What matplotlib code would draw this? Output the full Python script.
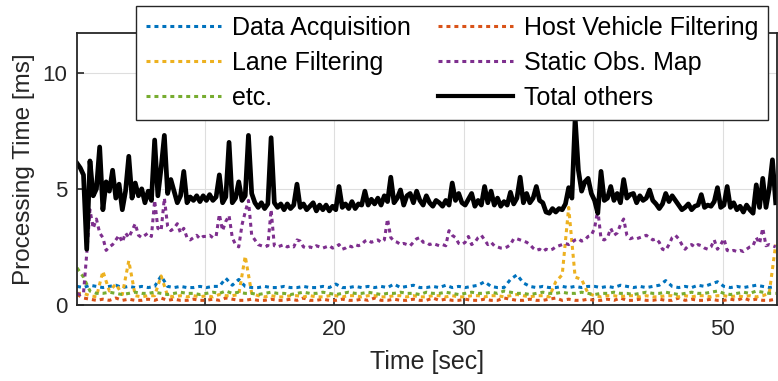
import numpy as np
import matplotlib
matplotlib.use("Agg")
import matplotlib.pyplot as plt

plt.rcParams['font.family'] = ['Liberation Sans', 'DejaVu Sans']

# Sampling grids [sec]
t_fine = np.round(np.arange(0.1, 54.11, 0.25), 2)     # 217 samples
t_coarse = np.round(np.arange(0.1, 54.11, 0.5), 2)    # 109 samples

# Total of the remaining modules [ms], 4 samples per second
total_others = [
    6.1, 5.9, 5.6, 2.4,   6.2, 4.7, 5.0, 6.8,   4.1, 5.3, 4.9, 5.8,
    4.6, 5.2, 4.1, 4.9,   6.4, 4.6, 5.25, 4.7,  5.0, 4.4, 4.9, 4.5,
    7.1, 4.7, 5.9, 7.3,   4.8, 5.4, 4.9, 4.4,   4.7, 5.75, 4.4, 4.65,
    4.5, 4.7, 4.45, 4.7,  4.5, 4.75, 4.5, 4.65, 5.6, 4.4, 4.65, 7.0,
    4.4, 4.6, 5.3, 4.5,   4.7, 7.3, 4.8, 4.4,   4.2, 4.4, 4.15, 4.35,
    7.2, 4.4, 4.2, 4.35,  4.1, 4.35, 4.15, 4.3, 5.2, 4.2, 4.35, 4.1,
    4.25, 4.4, 4.05, 4.3, 4.1, 4.3, 4.05, 4.25, 4.1, 5.1, 4.2, 4.35,
    4.15, 4.45, 4.15, 4.35, 4.3, 4.9, 4.3, 4.55, 4.35, 4.6, 4.3, 4.7,
    4.45, 5.5, 4.4, 4.6,  4.95, 4.3, 4.7, 4.8,  4.4, 4.9, 4.5, 4.3,
    4.7, 4.4, 4.25, 4.5,  4.4, 4.25, 4.5, 4.3,  5.25, 4.5, 4.8, 4.4,
    4.3, 4.55, 4.8, 4.25, 4.5, 4.3, 5.1, 4.4,   4.9, 4.3, 4.6, 4.25,
    4.45, 4.3, 4.85, 4.35, 4.6, 5.5, 4.4, 4.8,  4.4, 4.6, 5.1, 4.5,
    4.4, 4.0, 3.95, 4.15, 4.0, 4.15, 4.1, 4.35, 5.05, 4.6, 8.05, 5.8,
    4.9, 5.3, 5.45, 4.8,  4.5, 3.95, 5.75, 4.5, 4.6, 5.1, 4.5, 4.8,
    4.4, 5.4, 4.6, 4.75,  4.8, 4.4, 4.7, 4.5,   4.6, 4.95, 4.5, 4.35,
    4.15, 4.35, 4.8, 4.45, 4.7, 4.5, 4.3, 4.1,  4.2, 4.35, 4.1, 4.25,
    4.3, 4.75, 4.2, 4.3,  4.25, 4.45, 5.05, 4.2, 4.3, 5.1, 4.2, 4.4,
    4.1, 4.25, 4.0, 4.3,  4.1, 3.95, 5.17, 4.2, 5.45, 4.2, 5.0, 6.25,
    4.4,
]

# Static obstacle map [ms], 4 samples per second
static_obs_map = [
    0.5, 0.45, 0.5, 2.2,  4.1, 3.3, 3.7, 3.1,   2.9, 2.35, 2.5, 2.6,
    2.8, 3.0, 2.7, 3.1,   2.9, 3.2, 3.5, 3.0,   2.9, 3.0, 3.1, 2.95,
    4.5, 3.3, 3.2, 4.6,   3.4, 3.2, 3.3, 3.5,   3.1, 3.3, 2.9, 2.8,
    2.9, 3.0, 2.85, 2.95, 2.95, 3.0, 2.9, 2.95, 3.9, 3.2, 3.6, 3.85,
    2.9, 2.6, 2.5, 3.45,  4.0, 4.5, 3.0, 2.8,   2.6, 2.55, 2.5, 2.55,
    4.1, 2.55, 2.5, 2.55, 2.6, 2.5, 2.55, 2.5,  2.8, 2.75, 2.5, 2.45,
    2.5, 2.45, 2.55, 2.5, 2.45, 2.5, 2.55, 2.45, 2.5, 2.6, 2.4, 2.45,
    2.55, 2.5, 2.6, 2.55, 2.6, 2.75, 2.8, 2.7,  2.75, 2.8, 2.7, 2.8,
    3.7, 2.9, 2.75, 2.7,  2.6, 2.65, 2.6, 2.55, 2.7, 2.85, 2.9, 2.7,
    2.7, 2.6, 2.65, 2.6,  2.55, 2.6, 2.55, 3.2, 3.0, 2.9, 2.65, 2.6,
    2.7, 2.95, 2.6, 2.7,  2.9, 3.0, 2.8, 2.6,   2.7, 2.55, 2.5, 2.45,
    2.45, 2.5, 2.6, 2.85, 2.85, 2.8, 2.75, 2.7, 2.6, 2.45, 2.35, 2.4,
    2.3, 2.4, 2.35, 2.4,  2.5, 2.55, 2.6, 2.65, 2.6, 2.7, 2.8, 2.85,
    2.75, 2.8, 2.95, 3.0, 3.3, 4.1, 2.85, 2.8,  2.9, 3.3, 3.0, 3.1,
    3.45, 3.7, 3.0, 2.85, 2.9, 2.85, 2.9, 2.95, 3.0, 2.9, 2.8, 2.85,
    2.7, 2.4, 2.35, 2.6,  2.9, 3.0, 2.85, 2.6,  2.4, 2.55, 2.6, 2.5,
    2.6, 2.55, 2.45, 2.4, 2.5, 2.8, 2.4, 2.6,   2.85, 2.35, 2.3, 2.35,
    2.3, 2.35, 2.3, 2.4,  2.5, 2.55, 2.9, 2.65, 3.3, 2.55, 2.6, 2.55,
    2.5,
]

# Smaller modules [ms], 2 samples per second
data_acquisition = [
    0.8, 0.75, 0.85, 0.8, 0.75, 0.8, 0.85, 0.75, 0.8, 0.75,
    0.8, 0.75, 0.8, 1.25, 0.8, 0.75, 0.8, 0.75, 0.75, 0.8,
    0.75, 0.8, 0.8, 1.15, 0.85, 1.1, 0.8, 0.75, 0.75, 0.8,
    0.75, 0.75, 0.8, 0.75, 0.75, 0.8, 0.75, 0.75, 0.8, 0.75,
    0.9, 0.75, 0.75, 0.8, 0.75, 0.8, 0.75, 0.8, 0.75, 0.9,
    0.75, 0.8, 0.85, 0.75, 0.75, 0.8, 0.75, 0.85, 0.75, 0.8,
    0.75, 0.8, 0.85, 1.0, 0.8, 0.75, 0.75, 1.1, 1.3, 0.95,
    0.8, 0.75, 0.8, 0.75, 0.75, 0.8, 0.75, 0.8, 0.75, 0.8,
    0.8, 0.75, 0.8, 0.75, 0.85, 0.8, 0.75, 0.8, 0.75, 0.8,
    0.85, 1.05, 0.8, 0.75, 0.8, 0.75, 0.85, 0.8, 0.9, 1.0,
    0.8, 0.75, 0.8, 0.75, 0.8, 0.85, 0.8, 0.75, 0.8,
]
host_vehicle_filtering = [
    0.45, 0.3, 0.25, 0.2, 0.25, 0.2, 0.3, 0.2, 0.25, 0.2,
    0.2, 0.25, 0.2, 0.3, 0.2, 0.25, 0.2, 0.2, 0.25, 0.2,
    0.2, 0.25, 0.2, 0.3, 0.25, 0.2, 0.2, 0.25, 0.2, 0.2,
    0.25, 0.2, 0.2, 0.25, 0.2, 0.3, 0.2, 0.2, 0.25, 0.2,
    0.2, 0.25, 0.2, 0.2, 0.25, 0.2, 0.3, 0.2, 0.2, 0.25,
    0.2, 0.2, 0.25, 0.2, 0.2, 0.3, 0.2, 0.25, 0.2, 0.2,
    0.25, 0.2, 0.2, 0.25, 0.2, 0.2, 0.3, 0.25, 0.2, 0.2,
    0.25, 0.2, 0.2, 0.25, 0.3, 0.2, 0.25, 0.2, 0.2, 0.25,
    0.2, 0.2, 0.25, 0.2, 0.3, 0.2, 0.2, 0.25, 0.2, 0.2,
    0.25, 0.2, 0.2, 0.3, 0.2, 0.25, 0.2, 0.2, 0.25, 0.2,
    0.2, 0.25, 0.2, 0.3, 0.2, 0.25, 0.2, 0.2, 0.25,
]
lane_filtering = [
    0.5, 0.5, 0.4, 0.35, 1.45, 0.6, 0.9, 0.45, 1.9, 0.4,
    0.35, 0.4, 0.4, 1.25, 0.4, 0.35, 0.4, 0.35, 0.4, 0.35,
    0.4, 0.35, 0.45, 0.4, 0.4, 0.45, 2.1, 0.5, 0.4, 0.35,
    0.4, 0.35, 0.35, 0.4, 0.4, 0.35, 0.4, 0.35, 0.35, 0.4,
    0.4, 0.35, 0.4, 0.4, 0.35, 0.4, 0.4, 0.35, 0.35, 0.4,
    0.4, 0.35, 0.4, 0.35, 0.35, 0.4, 0.4, 0.35, 0.4, 0.35,
    0.35, 0.4, 0.4, 0.35, 0.4, 0.4, 0.35, 0.4, 0.45, 0.4,
    0.35, 0.4, 0.4, 0.35, 1.0, 1.3, 4.2, 1.2, 1.1, 0.5,
    0.4, 0.35, 0.4, 0.4, 0.35, 0.4, 0.4, 0.35, 0.4, 0.35,
    0.35, 0.4, 0.4, 0.35, 0.4, 0.35, 0.4, 0.4, 0.35, 0.4,
    0.4, 0.35, 0.4, 0.35, 0.4, 0.35, 0.4, 0.5, 2.6,
]
etc_modules = [
    1.6, 1.2, 0.6, 0.5, 0.5, 0.55, 0.5, 0.45, 0.5, 0.55,
    0.5, 0.5, 0.55, 0.5, 0.45, 0.5, 0.55, 0.5, 0.5, 0.45,
    0.5, 0.55, 0.5, 0.6, 0.5, 0.55, 0.5, 0.5, 0.45, 0.5,
    0.55, 0.5, 0.5, 0.45, 0.5, 0.55, 0.5, 0.5, 0.55, 0.5,
    0.45, 0.5, 0.55, 0.5, 0.5, 0.55, 0.5, 0.45, 0.5, 0.5,
    0.55, 0.5, 0.5, 0.45, 0.55, 0.5, 0.5, 0.55, 0.5, 0.45,
    0.5, 0.55, 0.5, 0.5, 0.55, 0.5, 0.6, 0.55, 0.5, 0.5,
    0.45, 0.5, 0.55, 0.5, 0.5, 0.55, 0.5, 0.5, 0.55, 0.5,
    0.45, 0.5, 0.5, 0.55, 0.5, 0.5, 0.45, 0.5, 0.55, 0.5,
    0.5, 0.55, 0.5, 0.45, 0.5, 0.55, 0.5, 0.5, 0.55, 0.6,
    0.5, 0.45, 0.5, 0.55, 0.5, 0.6, 0.55, 0.5, 0.5,
]

colors = {"blue": "#0072BD", "orange": "#D95319", "yellow": "#EDB120",
          "purple": "#7E2F8E", "green": "#77AC30", "black": "#000000"}
ink = '#262626'

fig = plt.figure(figsize=(7.78, 3.81), dpi=100)
ax = fig.add_axes([0.099, 0.1995, 0.8997, 0.7135])

dot = dict(lw=2.2, linestyle=(0, (1.3, 1.3)), dash_capstyle='butt')
h_da, = ax.plot(t_coarse, data_acquisition, color=colors["blue"], **dot)
h_hv, = ax.plot(t_coarse, host_vehicle_filtering, color=colors["orange"], **dot)
h_lf, = ax.plot(t_coarse, lane_filtering, color=colors["yellow"], **dot)
h_et, = ax.plot(t_coarse, etc_modules, color=colors["green"], **dot)
h_so, = ax.plot(t_fine, static_obs_map, color=colors["purple"], **dot)
h_to, = ax.plot(t_fine, total_others, color=colors["black"], lw=3.4)

ax.set_xlim(0.1, 54.2)
ax.set_ylim(0, 11.7)
ax.set_xticks([10, 20, 30, 40, 50])
ax.set_yticks([0, 5, 10])
ax.grid(True, color='#dedede', lw=0.8)
ax.set_axisbelow(True)
ax.tick_params(direction='in', length=5, width=1.2, labelsize=16,
               colors=ink, labelcolor=ink)
ax.tick_params(axis='x', pad=10)
ax.tick_params(axis='y', pad=7)
for s in ax.spines.values():
    s.set_linewidth(1.3)
    s.set_color(ink)

ax.set_xlabel("Time [sec]", fontsize=18, color=ink, labelpad=7)
ax.set_ylabel("Processing Time [ms]", fontsize=17.5, color=ink, labelpad=5)

# two columns, filled column by column
handles = [h_da, h_lf, h_et, h_hv, h_so, h_to]
labels = ["Data Acquisition", "Lane Filtering", "etc.",
          "Host Vehicle Filtering", "Static Obs. Map", "Total others"]
leg = fig.legend(handles, labels, ncol=2, loc='upper left',
                 bbox_to_anchor=(136 / 778, 1 - 6 / 381),
                 bbox_transform=fig.transFigure, fontsize=18,
                 frameon=True, fancybox=False, framealpha=1,
                 edgecolor=ink, borderpad=0.38, labelspacing=0.45,
                 handlelength=3.0, handletextpad=0.45, columnspacing=1.1,
                 borderaxespad=0)
leg.get_frame().set_linewidth(1.0)
for line in leg.get_lines():
    if line.get_linestyle() == '-':
        line.set_linewidth(3.0)

fig.savefig("out.png", dpi=100)
